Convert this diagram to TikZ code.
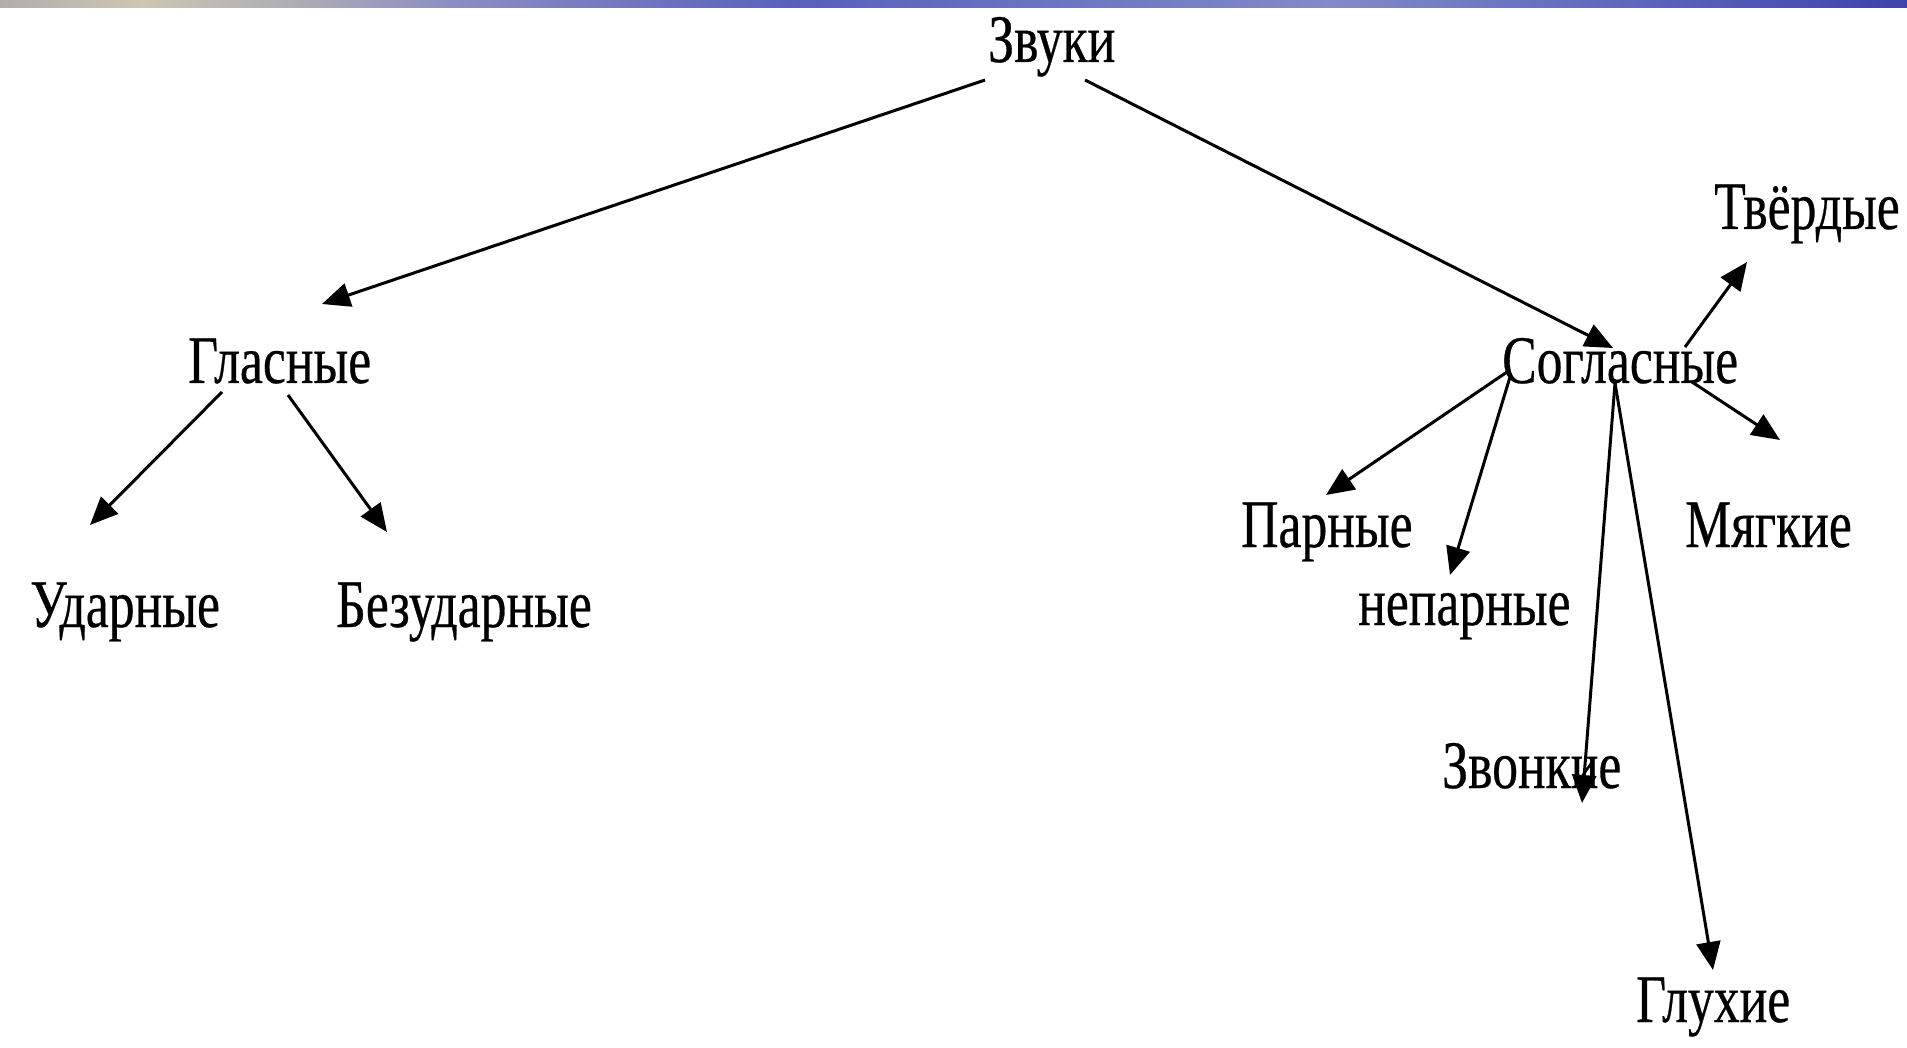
\documentclass[tikz,border=0pt]{standalone}
\usepackage{fontspec}
\setmainfont[FakeStretch=0.76,FakeBold=0.4]{Liberation Serif}
\usetikzlibrary{arrows.meta}
\definecolor{barA}{RGB}{178,172,172}
\definecolor{barB}{RGB}{205,198,178}
\definecolor{barC}{RGB}{172,172,180}
\definecolor{barD}{RGB}{140,142,195}
\definecolor{barE}{RGB}{88,96,188}
\definecolor{barF}{RGB}{130,138,200}
\definecolor{barG}{RGB}{92,100,188}
\definecolor{barH}{RGB}{62,66,172}
\begin{document}
\begin{tikzpicture}[x=1pt,y=-1pt,
  lbl/.style={anchor=base west,inner sep=0pt,font=\fontsize{68}{68}\selectfont},
  arr/.style={line width=3pt,-{Triangle[length=28pt,width=24pt]}}]
\useasboundingbox (0,0) rectangle (1907,1048);
\fill[white] (0,0) rectangle (1907,1048);
% top bar
\shade[left color=barA,right color=barB] (0,0) rectangle (140,8);
\shade[left color=barB,right color=barC] (140,0) rectangle (300,8);
\shade[left color=barC,right color=barD] (300,0) rectangle (450,8);
\shade[left color=barD,right color=barE] (450,0) rectangle (800,8);
\shade[left color=barE,right color=barF] (800,0) rectangle (1330,8);
\shade[left color=barF,right color=barG] (1330,0) rectangle (1650,8);
\shade[left color=barG,right color=barH] (1650,0) rectangle (1907,8);
% labels
\node[lbl] (zv) at (988,62) {Звуки};
\node[lbl] (gl) at (188,383) {Гласные};
\node[lbl] (ud) at (30,627) {Ударные};
\node[lbl] (bz) at (336,627) {Безударные};
\node[lbl] (sg) at (1502,383) {Согласные};
\node[lbl] (tv) at (1714,229) {Твёрдые};
\node[lbl] (mg) at (1685,547) {Мягкие};
\node[lbl] (pr) at (1241,547) {Парные};
\node[lbl] (np) at (1358,625) {непарные};
\node[lbl] (zk) at (1442,788) {Звонкие};
\node[lbl] (gh) at (1636,1022) {Глухие};
% connector ends
\coordinate (zvL) at (985,80);
\coordinate (zvR) at (1085,80);
\coordinate (glIn) at (322,304);
\coordinate (sgIn) at (1613,348);
\coordinate (glL) at (222,392);
\coordinate (glR) at (288,395);
\coordinate (udIn) at (90,525);
\coordinate (bzIn) at (387,532);
\coordinate (sgA) at (1685,347);
\coordinate (sgB) at (1692,382);
\coordinate (sgC) at (1507,372);
\coordinate (sgD) at (1510,377);
\coordinate (sgE) at (1615,383);
\coordinate (tvIn) at (1747,262);
\coordinate (mgIn) at (1780,440);
\coordinate (prIn) at (1326,495);
\coordinate (npIn) at (1450,575);
\coordinate (zkIn) at (1582,803);
\coordinate (ghIn) at (1713,970);
% connectors
\draw[arr] (zvL) -- (glIn);
\draw[arr] (zvR) -- (sgIn);
\draw[arr] (glL) -- (udIn);
\draw[arr] (glR) -- (bzIn);
\draw[arr] (sgA) -- (tvIn);
\draw[arr] (sgB) -- (mgIn);
\draw[arr] (sgC) -- (prIn);
\draw[arr] (sgD) -- (npIn);
\draw[arr] (sgE) -- (zkIn);
\draw[arr] (sgE) -- (ghIn);
\end{tikzpicture}
\end{document}
